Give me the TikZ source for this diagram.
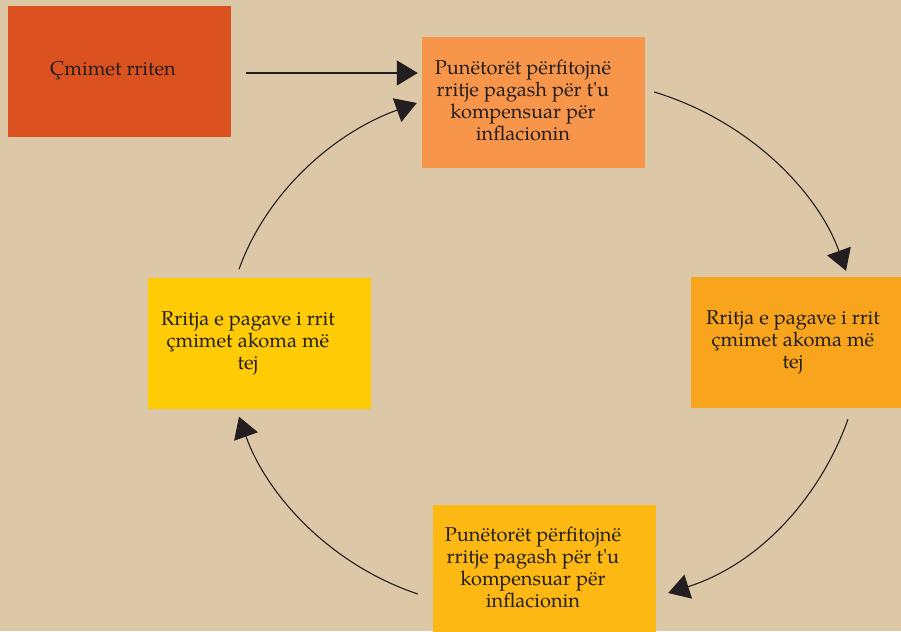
\documentclass[tikz,border=0pt]{standalone}
\usepackage{fontspec}
\setmainfont{TeX Gyre Pagella}
\usetikzlibrary{arrows.meta}
\definecolor{bg}{HTML}{DCC7A6}
\definecolor{ink}{HTML}{231F20}
\definecolor{cA}{HTML}{DB5220}
\definecolor{cB}{HTML}{F7954A}
\definecolor{cC}{HTML}{F8A51D}
\definecolor{cD}{HTML}{FFCB05}
\definecolor{cE}{HTML}{FDB813}
\newcommand{\boxtext}[2]{{\fontsize{20}{22}\selectfont\begin{tabular}{@{}c@{}}#2\end{tabular}}\hspace*{#1}}
\begin{document}
\begin{tikzpicture}[x=1pt,y=-1pt,
  box/.style={rectangle, minimum width=223pt, minimum height=131pt, inner sep=0pt, text=ink},
  arr/.style={draw=ink, line width=1.1pt, -{Triangle[length=21pt,width=25pt]}}]
\useasboundingbox (0,0) rectangle (901,631);
\clip (0,0) rectangle (901,631);
\fill[bg] (0,0) rectangle (901,631);
\node[box, fill=cA] (a) at (119.5,71.5) {\boxtext{13pt}{Çmimet rriten}};
\node[box, fill=cB] (b) at (533.5,103) {\boxtext{21pt}{Punëtorët përfitojnë\\rritje pagash për t\textquotesingle u\\kompensuar për\\inflacionin}};
\node[box, fill=cC] (c) at (802.5,342.5) {\boxtext{19pt}{Rritja e pagave i rrit\\çmimet akoma më\\tej}};
\node[box, fill=cD] (d) at (259.5,343) {\boxtext{23pt}{Rritja e pagave i rrit\\çmimet akoma më\\tej}};
\node[box, fill=cE] (e) at (544.5,570.5) {\boxtext{23pt}{Punëtorët përfitojnë\\rritje pagash për t\textquotesingle u\\kompensuar për\\inflacionin}};
\draw[arr] ([shift={(15,1.5)}]a.east) -- ([shift={(-4,-30)}]b.west);
\draw[arr] ([shift={(9,-11)}]b.east) .. controls +(94,28.4) and +(-28.5,-79.6) .. ([shift={(43.5,-6)}]c.north);
\draw[arr] ([shift={(45.5,11)}]c.south) .. controls +(-27.8,77.9) and +(91.5,-29.1) .. ([shift={(12,22.5)}]e.east);
\draw[arr] ([shift={(-15,23.5)}]e.west) .. controls +(-89.4,-30) and +(27.2,76.7) .. ([shift={(-20.5,8)}]d.south);
\draw[arr] ([shift={(-20.5,-8)}]d.north) .. controls +(26.4,-74.3) and +(-85.7,30.9) .. ([shift={(-5,0)}]b.west);
\end{tikzpicture}
\end{document}
